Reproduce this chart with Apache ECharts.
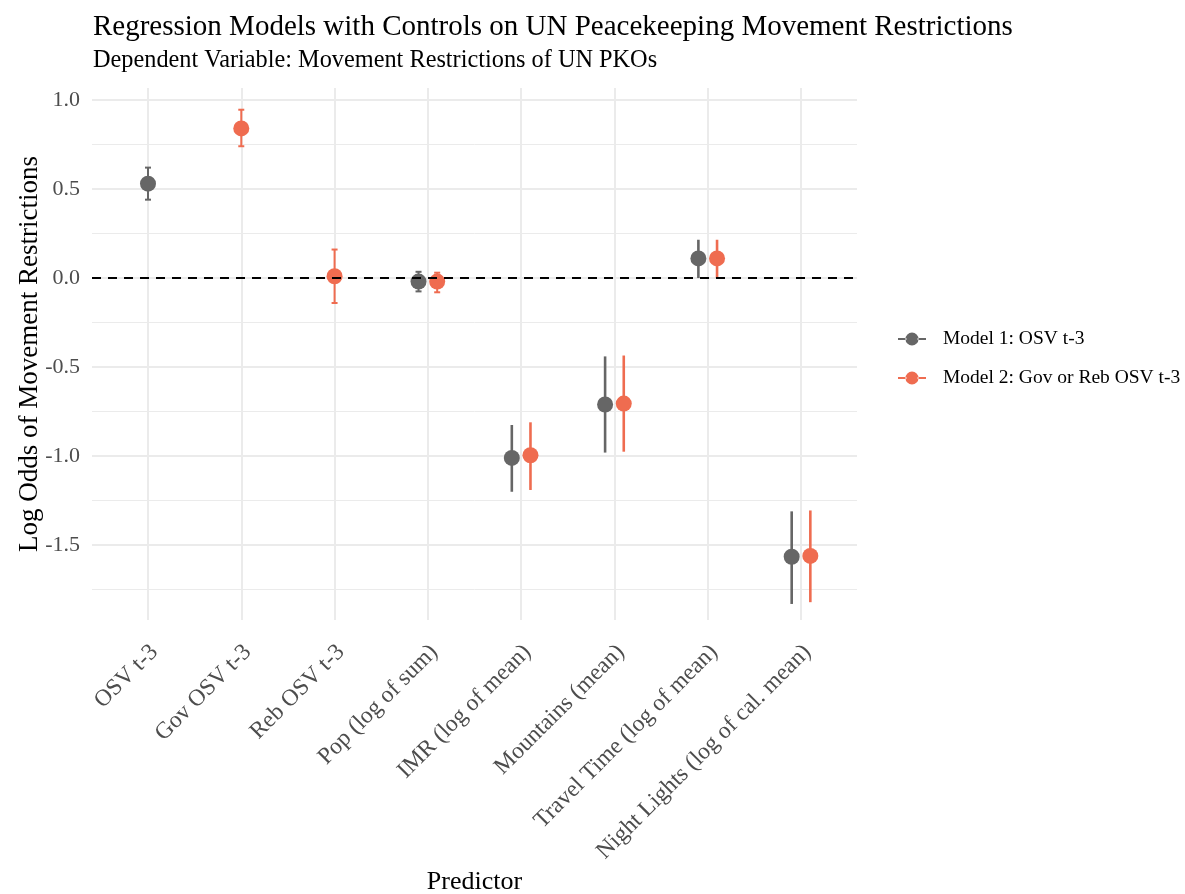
<!DOCTYPE html>
<html>
<head>
<meta charset="utf-8">
<script src="https://cdn.jsdelivr.net/npm/echarts@6/dist/echarts.min.js"></script>
<style>
  html, body { margin: 0; padding: 0; background: #fff; }
  #main { width: 1185px; height: 894px; }
</style>
</head>
<body>
<div id="main"></div>
<script>
var predictors = ['OSV t-3', 'Gov OSV t-3', 'Reb OSV t-3', 'Pop (log of sum)', 'IMR (log of mean)',
  'Mountains (mean)', 'Travel Time (log of mean)', 'Night Lights (log of cal. mean)'];

// estimate, lower, upper (null = predictor not in model)
var m1Est = [0.53, null, null, -0.02, -1.01, -0.71, 0.11, -1.565];
var m1Lo  = [0.44, null, null, -0.075, -1.20, -0.98, 0.0, -1.83];
var m1Hi  = [0.62, null, null, 0.035, -0.825, -0.44, 0.215, -1.31];

var m2Est = [null, 0.84, 0.01, -0.02, -0.995, -0.705, 0.11, -1.56];
var m2Lo  = [null, 0.74, -0.14, -0.08, -1.19, -0.975, 0.0, -1.82];
var m2Hi  = [null, 0.945, 0.16, 0.03, -0.81, -0.435, 0.215, -1.305];

var cappedPredictors = ['OSV t-3', 'Gov OSV t-3', 'Reb OSV t-3', 'Pop (log of sum)'];
var yMinorTicks = [-1.75, -1.25, -0.75, -0.25, 0.25, 0.75];
var yMin = -1.92, yMax = 1.067;

var chart = echarts.init(document.getElementById('main'));

function buildData(est, lo, hi, other, side) {
  var out = [];
  for (var i = 0; i < predictors.length; i++) {
    if (est[i] == null) continue;
    var dodge = other[i] == null ? 0 : side;
    var cap = cappedPredictors.indexOf(predictors[i]) >= 0 ? 1 : 0;
    out.push([i, est[i], lo[i], hi[i], dodge, cap]);
  }
  return out;
}

function makeRender(color) {
  return function (params, api) {
    var ci = api.value(0);
    var band = api.size([1, 0], [ci, 0])[0];
    var p = api.coord([ci, api.value(1)]);
    var lo = api.coord([ci, api.value(2)]);
    var hi = api.coord([ci, api.value(3)]);
    var x = p[0] + api.value(4) * 0.1 * band;
    var capped = api.value(5) === 1;
    var lw = capped ? 2 : 2.6;
    var children = [{
      type: 'line',
      shape: { x1: x, y1: lo[1], x2: x, y2: hi[1] },
      style: { stroke: color, lineWidth: lw }
    }];
    if (capped) {
      children.push({ type: 'line', shape: { x1: x - 3, y1: lo[1], x2: x + 3, y2: lo[1] }, style: { stroke: color, lineWidth: 2 } });
      children.push({ type: 'line', shape: { x1: x - 3, y1: hi[1], x2: x + 3, y2: hi[1] }, style: { stroke: color, lineWidth: 2 } });
    }
    children.push({
      type: 'circle',
      shape: { cx: x, cy: p[1], r: 8 },
      style: { fill: color }
    });
    return { type: 'group', children: children };
  };
}

var gray = '#666666';
var orange = '#EF6C50';
var legendIcon = 'path://M0,6H9V8H0Z M21,6H30V8H21Z M8,7a7,7 0 1,0 14,0a7,7 0 1,0 -14,0Z';
var serif = 'Liberation Serif';

var option = {
  backgroundColor: '#fff',
  title: {
    text: 'Regression Models with Controls on UN Peacekeeping Movement Restrictions',
    subtext: 'Dependent Variable: Movement Restrictions of UN PKOs',
    left: 88,
    top: 8,
    itemGap: 7,
    textStyle: { fontFamily: serif, fontSize: 29, fontWeight: 'normal', color: '#000' },
    subtextStyle: { fontFamily: serif, fontSize: 24.3, color: '#000' }
  },
  legend: {
    orient: 'vertical',
    left: 893,
    top: 324,
    itemWidth: 28,
    itemHeight: 14,
    itemGap: 19,
    icon: legendIcon,
    textStyle: { fontFamily: serif, fontSize: 19.5, color: '#000', padding: [0, 0, 0, 12] },
    data: ['Model 1: OSV t-3', 'Model 2: Gov or Reb OSV t-3']
  },
  grid: [
    { left: 101.35, right: 337.35, top: 88, bottom: 274, outerBoundsMode: 'none' },
    { left: 92, right: 328, top: 88, bottom: 274, outerBoundsMode: 'none' }
  ],
  xAxis: [{
    type: 'category',
    gridIndex: 0,
    data: predictors,
    boundaryGap: true,
    name: 'Predictor',
    nameLocation: 'middle',
    nameGap: 249,
    nameMoveOverlap: false,
    nameTextStyle: { fontFamily: serif, fontSize: 26, color: '#000' },
    axisLine: { show: false },
    axisTick: { show: false, alignWithLabel: true },
    axisLabel: {
      rotate: 45,
      margin: 18,
      interval: 0,
      align: 'right',
      verticalAlign: 'top',
      padding: [0, 3, 0, 0],
      fontFamily: serif,
      fontSize: 23.5,
      color: '#4d4d4d'
    },
    splitLine: { show: true, alignWithLabel: true, lineStyle: { color: '#ebebeb', width: 2 } }
  }, {
    type: 'value',
    gridIndex: 1,
    min: 0,
    max: 1,
    show: false
  }],
  yAxis: [{
    type: 'value',
    gridIndex: 0,
    min: yMin,
    max: yMax,
    show: false,
    splitLine: { show: false }
  }, {
    type: 'value',
    gridIndex: 1,
    min: yMin,
    max: yMax,
    name: 'Log Odds of Movement Restrictions',
    nameLocation: 'middle',
    nameGap: 49,
    nameMoveOverlap: false,
    nameTextStyle: { fontFamily: serif, fontSize: 27, color: '#000' },
    axisLine: { show: false },
    axisTick: { show: false },
    axisLabel: {
      showMinLabel: false,
      showMaxLabel: false,
      margin: 12,
      fontFamily: serif,
      fontSize: 22,
      color: '#4d4d4d',
      formatter: function (v) { return v.toFixed(1); }
    },
    splitLine: { show: true, showMinLine: false, showMaxLine: false, lineStyle: { color: '#ebebeb', width: 2 } }
  }],
  series: [
    {
      name: 'grid-minor',
      type: 'line',
      xAxisIndex: 1,
      yAxisIndex: 1,
      data: [],
      silent: true,
      z: 1,
      markLine: {
        silent: true,
        z: 1,
        symbol: 'none',
        label: { show: false },
        lineStyle: { color: '#ebebeb', width: 1, type: 'solid' },
        data: yMinorTicks.map(function (v) { return { yAxis: v }; })
      }
    },
    {
      name: 'Model 1: OSV t-3',
      type: 'custom',
      xAxisIndex: 0,
      yAxisIndex: 0,
      itemStyle: { color: gray },
      renderItem: makeRender(gray),
      data: buildData(m1Est, m1Lo, m1Hi, m2Est, -1),
      z: 3
    },
    {
      name: 'Model 2: Gov or Reb OSV t-3',
      type: 'custom',
      xAxisIndex: 0,
      yAxisIndex: 0,
      itemStyle: { color: orange },
      renderItem: makeRender(orange),
      data: buildData(m2Est, m2Lo, m2Hi, m1Est, 1),
      z: 3
    },
    {
      name: 'zero',
      type: 'line',
      xAxisIndex: 1,
      yAxisIndex: 1,
      data: [],
      silent: true,
      z: 5,
      markLine: {
        silent: true,
        z: 5,
        symbol: 'none',
        label: { show: false },
        lineStyle: { color: '#000', width: 2, type: [9, 7] },
        data: [{ yAxis: 0 }]
      }
    }
  ]
};

chart.setOption(option);
</script>
</body>
</html>
